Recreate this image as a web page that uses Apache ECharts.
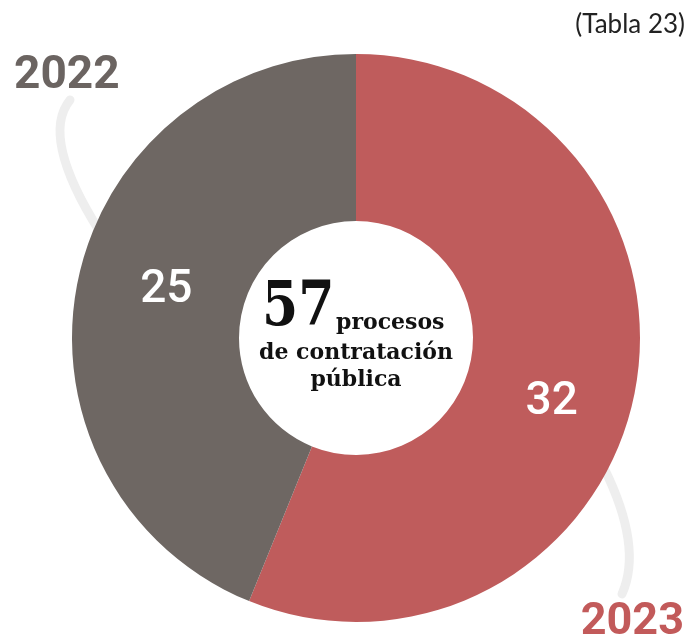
<!DOCTYPE html>
<html>
<head>
<meta charset="utf-8">
<script src="https://cdn.jsdelivr.net/npm/echarts@6/dist/echarts.min.js"></script>
<style>
  html, body { margin: 0; padding: 0; background: #fff; }
  #container { width: 687px; height: 644px; }
</style>
</head>
<body>
<div id="container"></div>
<script>
// data
var years = ['2023', '2022'];
var values = [32, 25];
var colors = ['#bf5c5c', '#6e6763'];
var total = 57;

var myChart = echarts.init(document.getElementById('container'));

var pieData = [];
for (var i = 0; i < years.length; i++) {
    pieData.push({ name: years[i], value: values[i], itemStyle: { color: colors[i] } });
}

// nudge of the inside labels, same order as years
var labelShift = [[-4, 25], [10, -8]];

var option = {
    backgroundColor: '#ffffff',
    animation: false,
    graphic: [
        // light connector curves behind the ring
        {
            type: 'bezierCurve', z: 0,
            shape: { x1: 70, y1: 100, cpx1: 40, cpy1: 137, x2: 100, y2: 232 },
            style: { stroke: '#eeeeee', lineWidth: 9, fill: null, lineCap: 'round' }
        },
        {
            type: 'bezierCurve', z: 0,
            shape: { x1: 604, y1: 468, cpx1: 643, cpy1: 547, x2: 622, y2: 594 },
            style: { stroke: '#eeeeee', lineWidth: 9, fill: null, lineCap: 'round' }
        },
        // year tags
        {
            type: 'text', left: 14, top: 53, z: 10,
            style: { text: years[1], font: 'bold 46px Roboto', fill: '#6b6461' }
        },
        {
            type: 'text', right: 3, top: 600, z: 10,
            style: { text: years[0], font: 'bold 45px Roboto', fill: '#c25a5a' }
        },
        // source note
        {
            type: 'text', right: 2, top: 12, z: 10,
            style: { text: '(Tabla 23)', font: '26px Lato', fill: '#222222' }
        },
        // center text
        {
            type: 'text', x: 262, y: 278, scaleX: 0.84, z: 10,
            style: { text: String(total), font: 'bold 62px "DejaVu Serif"', fill: '#111111' }
        },
        {
            type: 'text', left: 336, top: 312, z: 10,
            style: { text: 'procesos', font: 'bold 22px "DejaVu Serif"', fill: '#111111' }
        },
        {
            type: 'text', x: 356, y: 342, z: 10,
            style: { text: 'de contratación', font: 'bold 22px "DejaVu Serif"', fill: '#111111', align: 'center' }
        },
        {
            type: 'text', x: 356, y: 369, z: 10,
            style: { text: 'pública', font: 'bold 22px "DejaVu Serif"', fill: '#111111', align: 'center' }
        }
    ],
    series: [
        {
            type: 'pie',
            z: 2,
            center: [356, 338],
            radius: [117, 284],
            startAngle: 90,
            clockwise: true,
            avoidLabelOverlap: false,
            silent: true,
            label: {
                show: true,
                position: 'inside',
                formatter: '{c}',
                color: '#ffffff',
                fontFamily: 'Roboto',
                fontWeight: 500,
                fontSize: 46
            },
            labelLine: { show: false },
            labelLayout: function (params) {
                var s = labelShift[params.dataIndex];
                return { dx: s[0], dy: s[1] };
            },
            data: pieData
        }
    ]
};

myChart.setOption(option);
</script>
</body>
</html>
